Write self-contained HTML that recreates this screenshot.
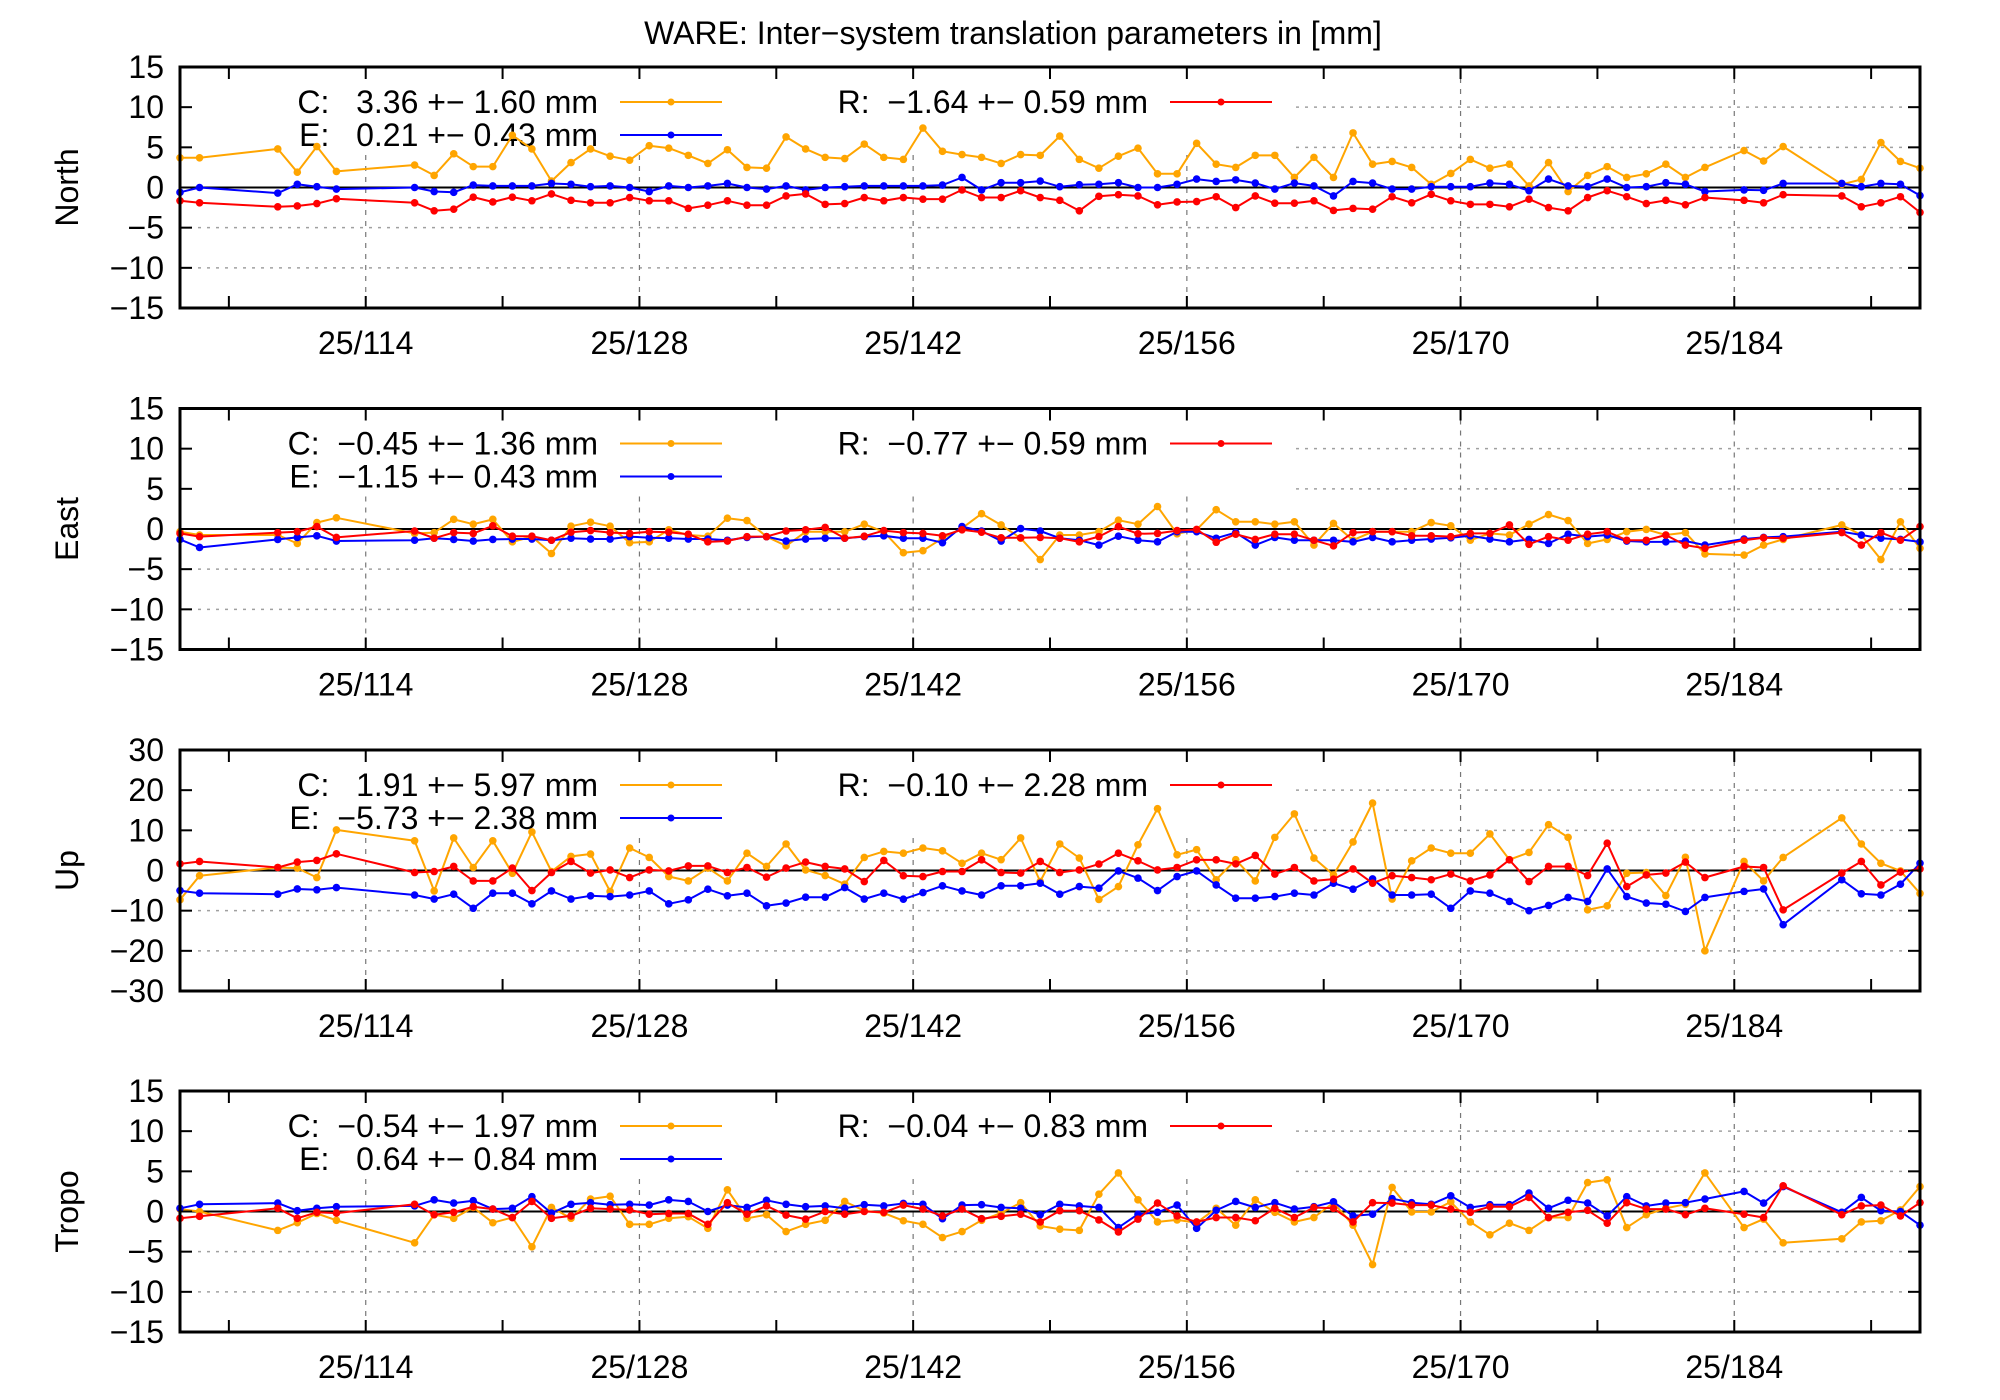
<!DOCTYPE html>
<html><head><meta charset="utf-8">
<style>
html,body{margin:0;padding:0;background:#fff;}
svg{display:block;font-family:"Liberation Sans Narrow","Liberation Sans",sans-serif;}
.pre{white-space:pre;}
</style></head>
<body>
<svg id="chart" width="2000" height="1400" viewBox="0 0 2000 1400" xmlns="http://www.w3.org/2000/svg">
<rect width="2000" height="1400" fill="#fff"/>
<text x="1013" y="44" font-size="32" text-anchor="middle">WARE: Inter−system translation parameters in [mm]</text>
</svg>
<script>
const days = [104.5,105.5,109.5,110.5,111.5,112.5,
116.5,117.5,118.5,119.5,120.5,121.5,122.5,123.5,124.5,125.5,126.5,127.5,128.5,129.5,130.5,131.5,132.5,133.5,134.5,135.5,136.5,137.5,138.5,139.5,140.5,141.5,142.5,143.5,144.5,145.5,146.5,147.5,148.5,149.5,
150.5,151.5,152.5,153.5,154.5,155.5,156.5,157.5,158.5,159.5,160.5,161.5,162.5,163.5,164.5,165.5,166.5,167.5,168.5,169.5,170.5,171.5,172.5,173.5,174.5,175.5,176.5,177.5,178.5,179.5,180.5,181.5,182.5,
184.5,185.5,186.5,189.5,190.5,191.5,192.5,193.5];
const xTickDays = [114,128,142,156,170,184];
const xTickLabels = ["25/114","25/128","25/142","25/156","25/170","25/184"];
const xMinorDays = [107,121,135,149,163,177,191];
const panelNames = ["North","East","Up","Tropo"];
const yRanges = [[-15,15],[-15,15],[-30,30],[-15,15]];
const yTicks = [[-15,-10,-5,0,5,10,15],[-15,-10,-5,0,5,10,15],[-30,-20,-10,0,10,20,30],[-15,-10,-5,0,5,10,15]];
const legendC = ["C:   3.36 +− 1.60 mm","C:  −0.45 +− 1.36 mm","C:   1.91 +− 5.97 mm","C:  −0.54 +− 1.97 mm"];
const legendE = ["E:   0.21 +− 0.43 mm","E:  −1.15 +− 0.43 mm","E:  −5.73 +− 2.38 mm","E:   0.64 +− 0.84 mm"];
const legendR = ["R:  −1.64 +− 0.59 mm","R:  −0.77 +− 0.59 mm","R:  −0.10 +− 2.28 mm","R:  −0.04 +− 0.83 mm"];

const northC = [3.7,3.7,4.8,1.9,5.1,2.0, 2.8,1.5,4.2,2.6,2.6,6.5,4.8,0.8,3.1,4.8,3.9,3.4,5.2,4.9,4.0,3.0,4.7,2.5,2.4,6.3,4.8,3.75,3.6,5.4,3.75,3.5,7.4,4.5,4.1,3.75,3.0,4.1,4.0,6.4, 3.5,2.4,3.9,4.9,1.7,1.7,5.5,2.9,2.5,4.0,4.0,1.25,3.75,1.25,6.8,2.9,3.25,2.5,0.4,1.75,3.5,2.4,2.9,0.2,3.1,-0.5,1.5,2.6,1.25,1.7,2.9,1.25,2.5, 4.6,3.3,5.1, 0.4,1.0,5.6,3.25,2.4];
const northE = [-0.6,0,-0.7,0.4,0.1,-0.2, 0,-0.5,-0.6,0.3,0.2,0.2,0.2,0.5,0.4,0.1,0.2,0,-0.5,0.2,0,0.2,0.5,0,-0.2,0.2,-0.3,0,0.1,0.2,0.2,0.2,0.2,0.3,1.25,-0.3,0.6,0.6,0.8,0.1, 0.35,0.4,0.6,0,0,0.4,1.05,0.75,0.95,0.55,-0.2,0.55,0.2,-1.05,0.75,0.55,-0.2,-0.2,0.1,0.1,0.1,0.55,0.4,-0.4,1.05,0.2,0.1,1.05,0,0.1,0.6,0.4,-0.5, -0.3,-0.35,0.5, 0.5,0.1,0.5,0.4,-1.0];
const northR = [-1.65,-1.9,-2.4,-2.3,-2.0,-1.4, -1.9,-2.9,-2.7,-1.2,-1.8,-1.2,-1.65,-0.8,-1.6,-1.9,-1.9,-1.25,-1.65,-1.65,-2.6,-2.2,-1.65,-2.2,-2.2,-1.05,-0.8,-2.1,-2.0,-1.25,-1.65,-1.25,-1.45,-1.45,-0.3,-1.25,-1.25,-0.4,-1.25,-1.6, -2.9,-1.1,-0.9,-1.05,-2.15,-1.8,-1.75,-1.15,-2.5,-1.05,-1.95,-1.95,-1.65,-2.85,-2.6,-2.7,-1.15,-1.9,-0.85,-1.65,-2.1,-2.1,-2.4,-1.45,-2.5,-2.9,-1.25,-0.4,-1.15,-2.0,-1.6,-2.15,-1.25, -1.6,-1.9,-0.9, -1.05,-2.4,-1.9,-1.15,-3.1];

const eastC = [-0.33,-0.75,-0.75,-1.8,0.8,1.4, -0.55,-0.45,1.2,0.6,1.2,-1.6,-0.95,-3.05,0.35,0.85,0.35,-1.7,-1.6,-0.1,-0.75,-0.9,1.35,1.05,-0.95,-2.1,-0.35,-0.35,-0.35,0.6,-0.35,-2.95,-2.7,-1.15,0.1,1.9,0.5,-1.15,-3.8, -0.75,-0.75,-0.33,1.1,0.6,2.8,-0.6,-0.1,2.4,0.9,0.9,0.6,0.9,-2.0,0.7,-1.4,-0.33,-0.33,-0.33,0.8,0.4,-1.4,-0.55,-0.75,0.6,1.8,1.05,-1.8,-1.3,-0.33,-0.05,-0.75,-0.45,-3.1, -3.25,-2.0,-1.3, 0.5,-0.75,-3.8,0.9,-2.4];
const eastE = [-1.3,-2.3,-1.3,-1.05,-0.85,-1.5, -1.4,-1.15,-1.3,-1.5,-1.3,-1.25,-1.25,-1.4,-1.15,-1.25,-1.25,-0.95,-1.1,-1.15,-1.25,-1.25,-1.4,-1.05,-0.95,-1.5,-1.25,-1.15,-1.15,-0.95,-0.85,-1.15,-1.15,-1.7,0.3,-0.25,-1.5,0.05,-0.25, -1.15,-1.4,-2.0,-0.9,-1.4,-1.6,-0.33,-0.33,-1.15,-0.45,-2.0,-1.05,-1.4,-1.4,-1.4,-1.6,-1.05,-1.6,-1.4,-1.25,-1.1,-0.85,-1.25,-1.6,-1.3,-1.8,-0.65,-0.95,-0.75,-1.5,-1.6,-1.6,-1.5,-2.0, -1.25,-1.05,-0.95, -0.33,-0.75,-1.15,-1.3,-1.6];
const eastR = [-0.55,-0.95,-0.45,-0.33,0.3,-1.05, -0.25,-1.15,-0.45,-0.55,0.4,-0.9,-0.9,-1.4,-0.4,-0.2,-0.45,-0.55,-0.33,-0.4,-0.65,-1.6,-1.5,-0.95,-0.95,-0.25,-0.1,0.2,-1.15,-0.9,-0.2,-0.45,-0.55,-0.85,-0.1,-0.4,-1.1,-1.1,-1.05, -1.15,-1.6,-0.95,0.3,-0.6,-0.55,-0.2,-0.05,-1.65,-0.65,-1.3,-0.65,-0.65,-1.4,-2.1,-0.45,-0.33,-0.33,-0.85,-0.85,-0.95,-0.55,-0.55,0.5,-1.9,-0.95,-1.4,-0.65,-0.33,-1.4,-1.4,-0.75,-2.0,-2.4, -1.4,-1.1,-1.15, -0.45,-2.0,-0.45,-1.4,0.3];

const upC = [-7.3,-1.3,0.75,0.6,-1.75,10.1, 7.4,-5.1,8.1,0.75,7.4,-0.7,9.6,-0.25,3.5,4.1,-5.2,5.6,3.25,-1.5,-2.6,0.6,-2.6,4.3,1.0,6.6,0.15,-1.25,-3.4,3.25,4.75,4.3,5.6,4.9,1.8,4.3,2.7,8.1,-2.75, 6.6,3.1,-7.2,-4.0,6.4,15.4,3.9,5.2,-2.3,2.7,-2.6,8.25,14.1,3.1,-1.1,7.1,16.8,-7.1,2.4,5.6,4.3,4.3,9.1,2.7,4.5,11.4,8.25,-9.8,-8.8,-0.7,-0.5,-6.25,3.3,-20.0, 2.25,-2.6,3.25, 13.1,6.6,1.8,-0.1,-5.7];
const upE = [-5.0,-5.65,-5.9,-4.6,-4.8,-4.25, -6.1,-7.1,-5.9,-9.4,-5.65,-5.65,-8.3,-5.1,-7.1,-6.3,-6.5,-6.1,-5.1,-8.3,-7.3,-4.65,-6.3,-5.65,-8.8,-8.1,-6.65,-6.65,-4.25,-7.1,-5.65,-7.15,-5.5,-3.8,-5.1,-6.1,-3.8,-3.8,-3.15, -5.9,-4.0,-4.4,-0.1,-1.9,-5.0,-1.5,-0.1,-3.6,-6.9,-6.9,-6.5,-5.65,-6.1,-3.15,-4.65,-2.1,-6.1,-6.1,-5.9,-9.4,-5.1,-5.65,-7.7,-10.0,-8.7,-6.7,-7.7,0.4,-6.5,-8.1,-8.4,-10.2,-6.7, -5.2,-4.6,-13.5, -2.3,-5.8,-6.1,-3.4,1.8];
const upR = [1.65,2.25,0.75,2.1,2.5,4.15, -0.5,-0.25,1.0,-2.6,-2.6,0.6,-5.0,-0.5,2.25,-0.65,0.15,-1.75,0.15,-0.1,1.15,1.15,-0.5,0.75,-1.65,0.6,2.1,1.0,0.4,-2.75,2.5,-1.3,-1.5,-0.25,-0.25,2.65,-0.5,-0.65,2.25, -0.5,0.15,1.6,4.3,2.4,0.15,0.75,2.65,2.65,1.65,3.75,-0.9,0.75,-2.6,-2.15,0.4,-3.15,-1.3,-1.75,-2.3,-0.9,-2.6,-1.1,2.65,-2.75,1.0,1.0,-1.25,6.8,-4.0,-1.1,-0.65,2.1,-1.75, 1.0,0.75,-9.8, -0.65,2.25,-3.6,-0.4,0.4];

const tropoC = [0.3,0,-2.35,-1.4,-0.25,-1.1, -3.9,-0.4,-0.85,0.5,-1.4,-0.75,-4.4,0.5,-0.85,1.55,1.9,-1.6,-1.6,-0.85,-0.65,-2.1,2.7,-0.85,-0.4,-2.5,-1.6,-1.1,1.25,0.1,-0.2,-1.15,-1.6,-3.25,-2.5,-1.1,-0.2,1.1,-1.8, -2.2,-2.35,2.15,4.8,1.45,-1.3,-1.05,-1.4,0.4,-1.7,1.45,-0.1,-1.3,-0.75,1.1,-1.7,-6.6,3.0,-0.05,-0.05,1.2,-1.3,-2.9,-1.45,-2.35,-0.75,-0.75,3.6,3.95,-2.0,-0.4,0.4,0.9,4.8, -2.0,-0.95,-3.9, -3.4,-1.3,-1.15,0.2,3.1];
const tropoE = [0.4,0.9,1.05,0.1,0.4,0.6, 0.7,1.45,1.05,1.35,0.3,0.4,1.85,-0.2,0.9,1.1,0.85,0.9,0.8,1.45,1.25,0,0.8,0.5,1.4,0.9,0.6,0.7,0.4,0.85,0.7,1.0,0.9,-0.9,0.8,0.85,0.5,0.4,-0.4, 0.9,0.7,0.5,-2.0,-0.33,-0.1,0.8,-2.1,0.15,1.25,0.5,1.1,0.3,0.6,1.2,-0.55,-0.33,1.6,1.1,0.9,1.95,0.5,0.85,0.85,2.3,0.4,1.4,1.05,-0.55,1.85,0.7,1.05,1.1,1.55, 2.5,1.05,3.1, -0.1,1.75,0.1,0,-1.7];
const tropoR = [-0.85,-0.6,0.4,-0.85,-0.1,-0.2, 0.9,-0.4,-0.1,0.6,0.3,-0.75,1.25,-0.85,-0.55,0.4,0.3,0.2,-0.33,-0.25,-0.25,-1.6,1.1,-0.33,0.7,-0.45,-0.95,0,-0.33,0,-0.1,0.8,0.3,-0.55,0.3,-0.9,-0.6,-0.33,-1.3, 0.1,0.1,-1.05,-2.55,-0.95,1.05,-0.55,-1.3,-0.75,-0.75,-1.15,0.4,-0.75,0.5,0.4,-1.3,1.1,1.05,0.8,0.8,0.3,-0.1,0.6,0.6,1.75,-0.75,-0.1,0.15,-1.45,1.1,0.3,0.3,-0.4,0.4, -0.33,-0.75,3.2, -0.4,0.7,0.8,-0.55,1.1];

const seriesC = [northC,eastC,upC,tropoC];
const seriesE = [northE,eastE,upE,tropoE];
const seriesR = [northR,eastR,upR,tropoR];

const NS = "http://www.w3.org/2000/svg";
const svg = document.getElementById("chart");
const L = 180, R = 1920, H = 241;
const tops = [67, 408.5, 750, 1091];
const dayMin = 104.5, dayMax = 193.5;
function xScale(d){ return L + (d - dayMin) / (dayMax - dayMin) * (R - L); }
function mk(tag, attrs, parent){
  const e = document.createElementNS(NS, tag);
  for (const k in attrs) e.setAttribute(k, attrs[k]);
  (parent || svg).appendChild(e);
  return e;
}
const colors = {C:"#ffa500", E:"#0000ff", R:"#ff0000"};

panelNames.forEach((name, p) => {
  const top = tops[p], bot = top + H;
  const [y0, y1] = yRanges[p];
  const yScale = v => bot - (v - y0) / (y1 - y0) * H;
  const g = mk("g", {});
  
  

  yTicks[p].forEach(t => {
    if (t === y0 || t === y1 || t === 0) return;
    const ln = mk("line", {x1:L, x2:R, y1:yScale(t), y2:yScale(t), stroke:"#a0a0a0", "stroke-width":1.5, "stroke-dasharray":"3,6"}, g);
    
    
  });
  xTickDays.forEach(d => {
    const ln = mk("line", {x1:xScale(d), x2:xScale(d), y1:top, y2:bot, stroke:"#777", "stroke-width":1.2, "stroke-dasharray":"5,6"}, g);
    
    
  });
  const lb = mk("rect", {x:L+2, y:top+2, width:1290-L, height:84, fill:"#fff"}, g);
  
  

  const leg = mk("g", {"font-size":32}, g);
  
  
  const entries = [[legendC[p], 598, top+46, colors.C, 620],[legendE[p], 598, top+79, colors.E, 620],[legendR[p], 1148, top+46, colors.R, 1170]];
  entries.forEach((en, i) => {
    const t = mk("text", {x:en[1], y:en[2], "text-anchor":"end", "class":"pre"}, leg);
    t.textContent = en[0];
    
    
    const ly = en[2] - 11;
    const sl = mk("line", {x1:en[4], x2:en[4]+102, y1:ly, y2:ly, stroke:en[3], "stroke-width":2}, leg);
    
    
    const sd = mk("circle", {cx:en[4]+51, cy:ly, r:3.5, fill:en[3]}, leg);
    
    
  });

  const z = mk("line", {x1:L, x2:R, y1:yScale(0), y2:yScale(0), stroke:"#000", "stroke-width":2}, g);
  
  

  [["C", seriesC[p]],["E", seriesE[p]],["R", seriesR[p]]].forEach(([key, vals]) => {
    const sg = mk("g", {}, g);
    
    
    const pts = vals.map((v, i) => xScale(days[i]).toFixed(1) + "," + yScale(v).toFixed(1)).join(" ");
    const pl = mk("polyline", {points:pts, fill:"none", stroke:colors[key], "stroke-width":2, "stroke-linejoin":"round"}, sg);
    
    
    vals.forEach((v, i) => {
      const c = mk("circle", {cx:xScale(days[i]), cy:yScale(v), r:3.8, fill:colors[key]}, sg);
      
      
    });
  });

  const tk = mk("g", {stroke:"#000", "stroke-width":2}, g);
  
  
  yTicks[p].forEach(t => {
    const y = yScale(t);
    mk("line", {x1:L, x2:L+12, y1:y, y2:y}, tk);
    mk("line", {x1:R-12, x2:R, y1:y, y2:y}, tk);
    const lab = mk("text", {x:L-16, y:y+11, "text-anchor":"end", "font-size":32, stroke:"none"}, g);
    lab.textContent = t < 0 ? "−" + Math.abs(t) : String(t);
    
    
  });
  xTickDays.concat(xMinorDays).forEach(d => {
    const x = xScale(d);
    mk("line", {x1:x, x2:x, y1:bot, y2:bot-12}, tk);
    mk("line", {x1:x, x2:x, y1:top, y2:top+12}, tk);
  });
  xTickDays.forEach((d, i) => {
    const lab = mk("text", {x:xScale(d), y:bot+46, "text-anchor":"middle", "font-size":32}, g);
    lab.textContent = xTickLabels[i];
    
    
  });
  const fr = mk("rect", {x:L, y:top, width:R-L, height:H, fill:"none", stroke:"#000", "stroke-width":3}, g);
  
  
  const cy = top + H/2;
  const yl = mk("text", {x:78, y:cy, "text-anchor":"middle", "font-size":32, transform:"rotate(-90 78 " + cy + ")"}, g);
  yl.textContent = name;
  
  
});
</script>
</body></html>
